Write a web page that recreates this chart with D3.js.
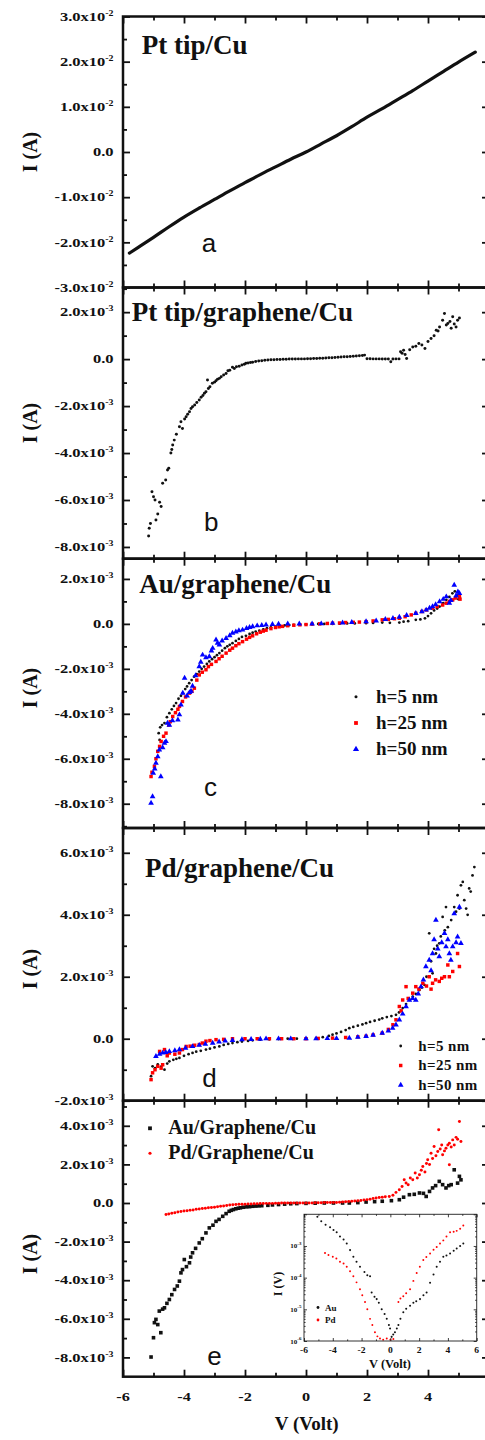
<!DOCTYPE html>
<html>
<head>
<meta charset="utf-8">
<script src="https://cdn.jsdelivr.net/npm/d3@7"></script>
<style>
body { margin: 0; background: #fff; }
svg { display: block; }
text { font-family: "Liberation Serif", "Times New Roman", serif; font-weight: bold; fill: #111; }
text.letter { font-family: "Liberation Sans", Arial, sans-serif; font-weight: normal; }
</style>
</head>
<body>
<svg id="fig" width="485" height="1440"></svg>
<script>
// ---- data: [V (Volt), I (mA)] ----

// a) Pt tip/Cu
var ptCu = [[-5.79,-22.4],[-5.5,-21.1],[-5,-18.9],[-4.5,-16.6],[-4,-14.4],[-3.5,-12.4],[-3,-10.5],[-2.5,-8.6],
	[-2,-6.8],[-1.5,-5.0],[-1,-3.3],[-0.5,-1.6],[0,0],[0.5,1.8],[1,3.6],[1.5,5.6],[2,7.7],[2.5,9.6],
	[3,11.6],[3.5,13.6],[4,15.7],[4.5,17.8],[5,19.9],[5.55,22.1]];

// b) Pt tip/graphene/Cu
var ptGr = [[-5.16,-7.53],[-5.14,-7.2],[-5.1,-7.0],[-5.05,-5.65],[-5.0,-5.86],[-4.95,-6.0],[-4.92,-6.85],[-4.86,-6.6],
	[-4.8,-6.1],[-4.75,-6.28],[-4.7,-5.29],[-4.6,-5.15],[-4.54,-4.72],[-4.5,-4.65],[-4.43,-4.0],[-4.4,-3.85],
	[-4.37,-3.66],[-4.32,-3.45],[-4.25,-3.2],[-4.15,-2.88],[-4.1,-2.67],[-4.05,-2.95],[-3.98,-2.55],[-3.93,-2.45],
	[-3.88,-2.35],[-3.82,-2.24],[-3.77,-2.1],[-3.72,-2.03],[-3.65,-1.95],[-3.58,-1.85],[-3.5,-1.74],[-3.44,-1.62],
	[-3.38,-1.55],[-3.33,-1.45],[-3.28,-1.39],[-3.23,-0.89],[-3.2,-1.25],[-3.15,-1.18],[-3.07,-1.03],[-3.0,-0.98],
	[-2.95,-0.92],[-2.9,-0.86],[-2.84,-0.82],[-2.78,-0.75],[-2.7,-0.68],[-2.62,-0.61],[-2.56,-0.5],[-2.5,-0.47],
	[-2.41,-0.35],[-2.35,-0.4],[-2.28,-0.33],[-2.19,-0.3],[-2.1,-0.25],[-2.02,-0.22],[-1.97,-0.18],[-1.9,-0.17],
	[-1.82,-0.14],[-1.75,-0.13],[-1.65,-0.1],[-1.55,-0.08],[-1.45,-0.07],[-1.35,-0.05],[-1.25,-0.04],[-1.15,-0.03],
	[-1.05,-0.03],[-0.95,-0.02],[-0.85,-0.02],[-0.75,-0.01],[-0.65,-0.01],[-0.55,0],[-0.45,0],[-0.35,0],
	[-0.25,0.01],[-0.15,0.01],[-0.05,0.01],[0.05,0.02],[0.15,0.02],[0.25,0.03],[0.35,0.03],[0.45,0.04],
	[0.55,0.04],[0.65,0.05],[0.75,0.06],[0.85,0.06],[0.95,0.07],[1.05,0.08],[1.15,0.09],[1.25,0.1],
	[1.35,0.1],[1.45,0.11],[1.55,0.12],[1.65,0.13],[1.75,0.14],[1.85,0.15],[1.92,0.17],[2.0,0.02],
	[2.1,0.02],[2.2,0.01],[2.3,0.01],[2.4,0.01],[2.5,0],[2.6,0],[2.7,0],[2.78,-0.11],[2.85,0],[2.95,0.01],
	[3.05,0.01],[3.1,0.31],[3.15,0.25],[3.2,0.38],[3.25,0.2],[3.3,0.03],[3.4,0.4],[3.5,0.52],[3.6,0.55],
	[3.7,0.67],[3.8,0.6],[3.9,0.45],[4.0,0.75],[4.1,0.88],[4.2,1.0],[4.27,1.23],[4.33,1.2],[4.38,1.37],
	[4.48,1.66],[4.54,1.94],[4.6,1.45],[4.65,1.52],[4.72,1.6],[4.76,1.31],[4.81,1.8],[4.86,1.5],[4.92,1.37],
	[4.97,1.66],[5.03,1.75]];

// c) Au/graphene/Cu
var auH5 = [[-4.83,-4.86],[-4.8,-5.16],[-4.78,-4.6],[-4.72,-4.5],[-4.64,-4.41],[-4.56,-4.15],[-4.48,-3.97],[-4.4,-3.8],
	[-4.33,-3.65],[-4.26,-3.52],[-4.18,-3.33],[-4.1,-3.2],[-4.04,-3.08],[-3.96,-2.9],[-3.9,-2.78],[-3.83,-2.64],
	[-3.75,-2.5],[-3.67,-2.35],[-3.58,-2.24],[-3.5,-2.12],[-3.42,-2.0],[-3.34,-1.9],[-3.25,-1.78],[-3.17,-1.67],
	[-3.08,-1.57],[-3.0,-1.48],[-2.92,-1.39],[-2.84,-1.3],[-2.75,-1.19],[-2.66,-1.08],[-2.58,-1.0],[-2.5,-0.93],
	[-2.41,-0.86],[-2.3,-0.76],[-2.2,-0.67],[-2.1,-0.58],[-1.97,-0.53],[-1.85,-0.45],[-1.75,-0.39],[-1.65,-0.34],
	[-1.53,-0.3],[-1.4,-0.24],[-1.28,-0.19],[-1.15,-0.15],[-0.99,-0.12],[-0.85,-0.09],[-0.7,-0.07],[-0.55,-0.05],
	[-0.4,-0.04],[-0.2,-0.03],[0,-0.02],[0.2,-0.01],[0.4,0],[0.6,0],[0.87,0],[1.1,0.01],[1.35,0.02],[1.6,0.02],
	[1.97,0.03],[2.2,0.04],[2.5,0.06],[2.75,0.05],[3.06,0.06],[3.2,0.1],[3.35,0.12],[3.6,0.18],[3.75,0.2],
	[3.9,0.25],[4.0,0.35],[4.1,0.47],[4.2,0.6],[4.3,0.68],[4.38,0.77],[4.5,0.92],[4.6,1.07],[4.7,1.2],
	[4.8,1.36],[4.88,1.45],[4.98,1.29],[5.0,1.1]];
var auH25 = [[-5.08,-6.79],[-5.05,-6.6],[-4.97,-6.34],[-4.92,-6.0],[-4.86,-5.67],[-4.8,-5.45],[-4.75,-5.23],[-4.67,-5.0],
	[-4.59,-4.86],[-4.5,-4.5],[-4.45,-4.35],[-4.37,-4.12],[-4.28,-3.95],[-4.2,-3.8],[-4.15,-3.67],[-4.05,-3.45],
	[-3.95,-3.25],[-3.82,-3.08],[-3.74,-3.0],[-3.66,-2.86],[-3.58,-2.5],[-3.5,-2.27],[-3.4,-2.15],[-3.28,-2.04],
	[-3.2,-1.9],[-3.1,-1.8],[-2.95,-1.67],[-2.85,-1.55],[-2.75,-1.44],[-2.62,-1.3],[-2.5,-1.17],[-2.41,-1.08],
	[-2.3,-0.97],[-2.2,-0.88],[-2.08,-0.79],[-1.95,-0.68],[-1.85,-0.6],[-1.75,-0.53],[-1.62,-0.44],[-1.5,-0.37],
	[-1.4,-0.32],[-1.31,-0.28],[-1.15,-0.21],[-1.0,-0.16],[-0.88,-0.13],[-0.77,-0.11],[-0.6,-0.08],[-0.4,-0.06],
	[-0.2,-0.04],[0,-0.03],[0.2,-0.01],[0.45,0],[0.7,0.02],[0.87,0.03],[1.1,0.04],[1.3,0.06],[1.55,0.07],
	[1.75,0.08],[1.97,0.1],[2.2,0.13],[2.5,0.18],[2.7,0.2],[2.9,0.23],[3.06,0.25],[3.25,0.32],[3.45,0.4],
	[3.6,0.47],[3.8,0.55],[3.95,0.62],[4.15,0.7],[4.3,0.77],[4.48,0.84],[4.6,0.92],[4.7,1.0],[4.81,1.07],
	[4.9,1.15],[5.03,1.21],[5.05,1.1]];
var auH50 = [[-5.08,-7.97],[-5.03,-7.68],[-5.01,-6.64],[-4.96,-6.45],[-4.92,-6.19],[-4.86,-5.9],[-4.81,-5.6],[-4.76,-6.79],
	[-4.7,-5.5],[-4.64,-5.3],[-4.59,-5.23],[-4.54,-4.41],[-4.48,-4.5],[-4.38,-4.3],[-4.2,-4.27],[-4.15,-4.04],
	[-4.1,-3.6],[-4.04,-3.08],[-3.98,-2.41],[-3.9,-3.2],[-3.82,-3.05],[-3.77,-2.99],[-3.72,-2.77],[-3.62,-2.3],
	[-3.5,-1.9],[-3.45,-1.7],[-3.39,-1.38],[-3.28,-1.5],[-3.17,-1.45],[-3.1,-1.2],[-3.06,-1.08],[-2.95,-0.71],
	[-2.9,-0.85],[-2.84,-0.93],[-2.75,-0.75],[-2.62,-0.64],[-2.5,-0.52],[-2.41,-0.41],[-2.3,-0.35],[-2.2,-0.3],
	[-2.08,-0.27],[-1.95,-0.2],[-1.85,-0.15],[-1.75,-0.12],[-1.6,-0.08],[-1.45,-0.06],[-1.31,-0.04],[-1.1,-0.02],
	[-0.9,-0.01],[-0.6,0],[-0.22,0],[0.2,0],[0.5,0.01],[0.87,0.03],[1.2,0.05],[1.5,0.07],[1.97,0.1],[2.3,0.14],
	[2.6,0.2],[2.85,0.25],[3.06,0.3],[3.3,0.38],[3.6,0.47],[3.8,0.55],[3.94,0.62],[4.05,0.7],[4.15,0.77],
	[4.25,0.86],[4.38,0.99],[4.5,1.1],[4.6,1.21],[4.7,0.92],[4.75,1.05],[4.86,1.73],[4.92,1.25],[4.98,1.43],
	[5.03,1.36]];

// d) Pd/graphene/Cu
var pdH5 = [[-5.08,-1.21],[-5.03,-0.89],[-4.95,-0.95],[-4.86,-0.83],[-4.75,-0.9],[-4.64,-1.0],[-4.55,-0.8],[-4.48,-0.73],
	[-4.35,-0.68],[-4.25,-0.65],[-4.15,-0.62],[-4.0,-0.55],[-3.85,-0.5],[-3.72,-0.46],[-3.6,-0.42],[-3.45,-0.39],
	[-3.28,-0.35],[-3.15,-0.32],[-3.0,-0.28],[-2.84,-0.25],[-2.7,-0.2],[-2.55,-0.17],[-2.41,-0.14],[-2.25,-0.11],
	[-2.1,-0.09],[-1.9,-0.07],[-1.75,-0.05],[-1.5,-0.03],[-1.2,-0.02],[-0.9,-0.01],[-0.6,0],[-0.3,0],[0,0],
	[0.33,0.02],[0.55,0.05],[0.75,0.09],[0.87,0.13],[1.0,0.17],[1.15,0.22],[1.3,0.28],[1.42,0.34],[1.55,0.38],
	[1.7,0.42],[1.85,0.46],[1.97,0.5],[2.1,0.54],[2.25,0.58],[2.4,0.62],[2.5,0.66],[2.65,0.7],[2.8,0.73],
	[2.95,0.77],[3.05,0.85],[3.17,0.99],[3.28,1.12],[3.4,1.25],[3.5,1.36],[3.6,1.45],[3.72,1.57],[3.8,1.65],
	[3.88,1.74],[3.95,2.0],[4.04,3.4],[4.1,2.5],[4.15,2.11],[4.2,2.9],[4.26,2.75],[4.3,3.0],[4.37,3.08],
	[4.42,3.3],[4.48,3.93],[4.55,3.5],[4.59,4.25],[4.65,3.6],[4.76,3.83],[4.86,4.25],[4.92,4.1],[4.97,4.63],
	[5.03,4.2],[5.08,4.95],[5.14,5.06],[5.19,4.47],[5.25,4.2],[5.3,4.0],[5.35,4.85],[5.4,4.75],[5.46,5.27],
	[5.52,5.54]];
var pdH25 = [[-5.08,-1.32],[-5.03,-1.1],[-4.95,-1.0],[-4.86,-0.89],[-4.8,-0.41],[-4.75,-0.95],[-4.7,-0.84],[-4.64,-0.35],
	[-4.55,-0.55],[-4.48,-0.46],[-4.3,-0.5],[-4.15,-0.46],[-4.05,-0.35],[-3.93,-0.25],[-3.8,-0.24],[-3.65,-0.21],
	[-3.5,-0.19],[-3.4,-0.14],[-3.28,-0.08],[-3.15,-0.06],[-2.95,-0.03],[-2.7,-0.02],[-2.41,0],[-2.0,0],[-1.6,0],
	[-1.2,0],[-0.8,0],[-0.4,0],[0,0],[0.4,0.01],[0.87,0.02],[1.3,0.04],[1.7,0.06],[1.97,0.08],[2.2,0.12],
	[2.5,0.18],[2.7,0.3],[2.85,0.45],[2.95,0.61],[3.06,1.04],[3.12,0.9],[3.17,1.25],[3.28,1.68],[3.35,1.3],
	[3.5,1.47],[3.6,1.68],[3.7,1.6],[3.83,1.79],[3.95,1.7],[4.04,2.0],[4.1,1.6],[4.15,1.79],[4.25,1.9],
	[4.37,1.85],[4.45,1.95],[4.54,2.0],[4.65,2.38],[4.7,2.0],[4.81,2.17],[4.97,2.75],[5.03,2.33]];
var pdH50 = [[-4.92,-0.57],[-4.8,-0.5],[-4.7,-0.46],[-4.6,-0.44],[-4.48,-0.41],[-4.3,-0.38],[-4.15,-0.35],[-3.95,-0.3],
	[-3.72,-0.25],[-3.5,-0.21],[-3.3,-0.17],[-3.06,-0.14],[-2.85,-0.1],[-2.65,-0.07],[-2.41,-0.05],[-2.1,-0.03],
	[-1.8,-0.02],[-1.5,-0.01],[-1.31,0],[-0.9,0],[-0.5,0],[0,0],[0.33,0],[0.7,0.01],[1.0,0.01],[1.42,0.02],
	[1.7,0.05],[1.97,0.08],[2.2,0.12],[2.5,0.18],[2.7,0.25],[2.84,0.34],[2.95,0.45],[3.06,0.61],[3.17,0.8],
	[3.28,1.04],[3.39,1.25],[3.5,1.3],[3.6,1.25],[3.68,1.45],[3.77,1.68],[3.85,1.9],[3.93,2.33],[4.04,2.54],
	[4.1,2.2],[4.15,2.75],[4.2,3.2],[4.26,3.83],[4.32,2.9],[4.37,2.65],[4.45,3.1],[4.54,3.4],[4.59,2.97],
	[4.65,3.2],[4.7,2.75],[4.75,2.54],[4.81,2.97],[4.86,4.04],[4.92,3.1],[4.97,3.29],[5.03,4.25],[5.08,3.08]];

// e) comparison Au vs Pd
var auCmp = [[-5.08,-7.98],[-5.0,-6.98],[-4.97,-6.2],[-4.92,-6.03],[-4.86,-6.3],[-4.81,-5.6],[-4.76,-6.72],[-4.7,-5.5],
	[-4.64,-5.43],[-4.56,-5.2],[-4.48,-5.0],[-4.4,-4.75],[-4.31,-4.48],[-4.22,-4.3],[-4.15,-4.05],[-4.1,-3.62],
	[-4.05,-3.45],[-3.99,-2.93],[-3.92,-3.3],[-3.82,-3.1],[-3.78,-2.8],[-3.72,-2.58],[-3.62,-2.35],[-3.5,-2.07],
	[-3.4,-1.85],[-3.28,-1.55],[-3.17,-1.29],[-3.05,-1.15],[-2.95,-0.95],[-2.85,-0.85],[-2.73,-0.69],[-2.62,-0.55],
	[-2.52,-0.43],[-2.45,-0.38],[-2.38,-0.34],[-2.3,-0.3],[-2.22,-0.27],[-2.15,-0.25],[-2.05,-0.22],[-1.95,-0.2],
	[-1.85,-0.19],[-1.75,-0.17],[-1.65,-0.16],[-1.55,-0.15],[-1.45,-0.14],[-1.25,-0.12],[-1.1,-0.1],[-0.9,-0.08],
	[-0.7,-0.06],[-0.5,-0.04],[-0.3,-0.03],[0,-0.02],[0.3,-0.01],[0.6,0],[0.9,0],[1.2,0],[1.42,0],[1.7,0.02],
	[1.97,0.05],[2.25,0.07],[2.5,0.09],[2.8,0.12],[3.06,0.17],[3.2,0.3],[3.39,0.43],[3.55,0.45],[3.72,0.52],
	[3.85,0.5],[3.94,0.34],[4.05,0.6],[4.15,0.78],[4.25,0.9],[4.37,1.12],[4.48,0.95],[4.59,0.78],[4.68,0.9],
	[4.76,0.95],[4.86,1.72],[4.97,1.03],[5.03,1.38],[5.08,1.2]];
var pdCmp = [[-4.59,-0.6],[-4.5,-0.57],[-4.4,-0.53],[-4.3,-0.5],[-4.2,-0.47],[-4.1,-0.44],[-4.0,-0.42],[-3.9,-0.4],
	[-3.8,-0.38],[-3.7,-0.36],[-3.6,-0.33],[-3.5,-0.31],[-3.4,-0.29],[-3.3,-0.27],[-3.2,-0.25],[-3.1,-0.23],
	[-3.0,-0.22],[-2.9,-0.2],[-2.8,-0.17],[-2.7,-0.15],[-2.6,-0.13],[-2.5,-0.11],[-2.4,-0.09],[-2.3,-0.08],
	[-2.2,-0.07],[-2.1,-0.06],[-2.0,-0.06],[-1.9,-0.05],[-1.8,-0.05],[-1.7,-0.04],[-1.6,-0.04],[-1.5,-0.03],
	[-1.4,-0.03],[-1.3,-0.02],[-1.2,-0.02],[-1.1,-0.02],[-1.0,-0.01],[-0.9,-0.01],[-0.8,0],[-0.7,0],[-0.6,0],
	[-0.5,0],[-0.4,0],[-0.3,0],[-0.2,0],[-0.1,0],[0,0],[0.1,0],[0.2,0],[0.3,0.01],[0.4,0.01],[0.5,0.01],
	[0.6,0.02],[0.7,0.02],[0.8,0.02],[0.9,0.03],[1.0,0.03],[1.1,0.04],[1.2,0.05],[1.3,0.06],[1.4,0.08],
	[1.5,0.09],[1.6,0.1],[1.7,0.12],[1.8,0.13],[1.9,0.15],[2.0,0.17],[2.1,0.2],[2.2,0.23],[2.3,0.26],[2.4,0.28],
	[2.5,0.3],[2.6,0.32],[2.73,0.34],[2.85,0.4],[2.95,0.55],[3.06,0.69],[3.15,0.85],[3.22,1.2],[3.28,1.03],
	[3.35,0.95],[3.42,1.3],[3.5,1.2],[3.58,1.55],[3.65,1.3],[3.72,1.46],[3.78,1.7],[3.83,1.89],[3.9,1.6],
	[3.95,2.05],[3.99,2.24],[4.05,2.0],[4.1,2.58],[4.15,2.3],[4.2,2.93],[4.26,2.45],[4.32,2.67],[4.35,3.79],
	[4.4,2.8],[4.45,3.0],[4.48,2.5],[4.54,2.7],[4.59,2.84],[4.65,3.0],[4.7,3.1],[4.7,1.98],[4.76,2.9],
	[4.81,3.27],[4.86,3.01],[4.92,3.4],[4.97,3.3],[5.03,4.22],[5.08,3.19]];

// e inset) |I| in A on a log axis
var insetAu = [[-5.07,8.3e-3],[-4.8,6.0e-3],[-4.5,4.7e-3],[-4.19,3.9e-3],[-3.95,3.2e-3],[-3.73,2.7e-3],[-3.5,2.0e-3],
	[-3.25,1.6e-3],[-3.03,1.2e-3],[-2.8,7.4e-4],[-2.57,4.6e-4],[-2.35,3.2e-4],[-2.11,2.2e-4],[-1.8,1.5e-4],
	[-1.6,1.2e-4],[-1.41,1.1e-4],[-1.3,3.4e-5],[-1.1,2.5e-5],[-0.95,2.1e-5],[-0.8,1.6e-5],[-0.6,1.0e-5],
	[-0.4,7.1e-6],[-0.25,5.0e-6],[-0.1,3.2e-6],[-0.02,2.5e-6],[0.09,1.35e-6],[0.2,1.6e-6],[0.32,1.9e-6],
	[0.45,2.5e-6],[0.56,3.2e-6],[0.7,5.0e-6],[0.9,8.1e-6],[1.1,1.05e-5],[1.37,1.3e-5],[1.6,1.6e-5],[1.8,1.8e-5],
	[2.06,2.1e-5],[2.3,2.8e-5],[2.52,3.4e-5],[2.76,6.9e-5],[3.0,1.26e-4],[3.22,2.2e-4],[3.45,3.2e-4],[3.68,4.6e-4],
	[3.9,5.0e-4],[4.15,5.8e-4],[4.4,7.1e-4],[4.61,8.3e-4],[4.85,1.0e-3],[5.07,1.2e-3]];
var insetPd = [[-4.54,6.0e-4],[-4.3,5.2e-4],[-4.0,4.6e-4],[-3.75,4.0e-4],[-3.5,3.2e-4],[-3.25,2.8e-4],[-3.03,2.2e-4],
	[-2.8,1.6e-4],[-2.57,1.1e-4],[-2.35,7.1e-5],[-2.11,4.3e-5],[-1.95,2.8e-5],[-1.76,1.7e-5],[-1.6,1.0e-5],
	[-1.41,5.0e-6],[-1.25,3.2e-6],[-1.07,1.9e-6],[-0.9,1.4e-6],[-0.72,1.2e-6],[-0.5,1.1e-6],[-0.25,1.2e-6],
	[0,1.1e-6],[0.21,1.15e-6],[0.56,1.7e-5],[0.7,2.2e-5],[0.9,2.6e-5],[1.1,3.2e-5],[1.37,4.3e-5],[1.6,7.9e-5],
	[1.83,1.4e-4],[2.05,2.2e-4],[2.29,3.6e-4],[2.5,4.5e-4],[2.76,5.8e-4],[3.0,7.6e-4],[3.22,9.3e-4],[3.45,1.2e-3],
	[3.68,1.5e-3],[3.9,2.0e-3],[4.15,2.7e-3],[4.4,2.8e-3],[4.61,3.0e-3],[4.85,3.5e-3],[5.07,4.4e-3]];

// ticks (mA) and labels
var xMajor = [-6, -4, -2, 0, 2, 4, 6];
var xMinor = [-5, -3, -1, 1, 3, 5];
var xLabels = [-6, -4, -2, 0, 2, 4];   // "6" falls outside the cropped figure
var aMajor = [-30, -20, -10, 0, 10, 20, 30], aMinor = [-25, -15, -5, 5, 15, 25];
var bMajor = [-8, -6, -4, -2, 0, 2], bMinor = [-7, -5, -3, -1, 1, 3];
var cMajor = [-8, -6, -4, -2, 0, 2], cMinor = [-9, -7, -5, -3, -1, 1];
var dMajor = [-2, 0, 2, 4, 6], dMinor = [-1, 1, 3, 5];
var eMajor = [-8, -6, -4, -2, 0, 2, 4], eMinor = [-7, -5, -3, -1, 1, 3, 5];
var hLegend = ["h=5 nm", "h=25 nm", "h=50 nm"];
var cmpLegend = ["Au/Graphene/Cu", "Pd/Graphene/Cu"];
var insetLegend = ["Au", "Pd"];

var svg = d3.select("#fig");
var x = d3.scaleLinear().domain([-6, 6]).range([123, 489]);

var shapes = { dot: d3.symbolCircle, square: d3.symbolSquare, tri: d3.symbolTriangle };
var BLACK = "#111", RED = "#ff0000", BLUE = "#0000ff";

var hSeriesC = [
	{data: auH5, color: BLACK, shape: "dot", size: 6},
	{data: auH25, color: RED, shape: "square", size: 12},
	{data: auH50, color: BLUE, shape: "tri", size: 14}
];
var hSeriesD = [
	{data: pdH5, color: BLACK, shape: "dot", size: 6},
	{data: pdH25, color: RED, shape: "square", size: 12},
	{data: pdH50, color: BLUE, shape: "tri", size: 14}
];
var cmpSeries = [
	{data: auCmp, color: BLACK, shape: "square", size: 13},
	{data: pdCmp, color: RED, shape: "dot", size: 7}
];

var panels = [
	{top: 16.5, bottom: 287.5, domain: [-30, 30], major: aMajor, minor: aMinor, exp: -2,
	 title: "Pt tip/Cu", tx: 141.7, ty: 54.3, letter: "a", lx: 201.7, ly: 251.7, labelY: 152,
	 series: [{data: ptCu, color: BLACK, shape: "line"}]},
	{top: 287.5, bottom: 558.7, domain: [-8.5, 3.05], major: bMajor, minor: bMinor, exp: -3,
	 title: "Pt tip/graphene/Cu", tx: 131.7, ty: 320.7, letter: "b", lx: 204, ly: 530.7, labelY: 423,
	 series: [{data: ptGr, color: BLACK, shape: "dot", size: 7}]},
	{top: 558.7, bottom: 828, domain: [-9.08, 2.9], major: cMajor, minor: cMinor, exp: -3,
	 title: "Au/graphene/Cu", tx: 139.3, ty: 592.7, letter: "c", lx: 204, ly: 796, labelY: 688,
	 series: hSeriesC},
	{top: 828, bottom: 1100.7, domain: [-2, 6.8], major: dMajor, minor: dMinor, exp: -3,
	 title: "Pd/graphene/Cu", tx: 145, ty: 876.7, letter: "d", lx: 202.3, ly: 1086.7, labelY: 969,
	 series: hSeriesD},
	{top: 1100.7, bottom: 1376.7, domain: [-9, 5.3], major: eMajor, minor: eMinor, exp: -3,
	 title: null, letter: "e", lx: 207.3, ly: 1365, labelY: 1254,
	 series: cmpSeries}
];

// Draws one series of markers (or a line) through the given scales
function drawSeries(g, s, sx, sy, scale) {
	if (s.shape === "line") {
		g.append("path")
		.datum(s.data)
		.attr("fill", "none")
		.attr("stroke", s.color)
		.attr("stroke-width", 3.2)
		.attr("stroke-linecap", "round")
		.attr("d", d3.line().x(function(d){ return sx(d[0]); }).y(function(d){ return sy(d[1]); }).curve(d3.curveMonotoneX));
		return;
	}
	var sym = d3.symbol().type(shapes[s.shape]).size(s.size * (scale || 1));
	g.selectAll(null)
	.data(s.data)
	.enter().append("path")
	.attr("d", sym)
	.attr("fill", s.color)
	.attr("transform", function(d){ return "translate(" + sx(d[0]) + "," + sy(d[1]) + ")"; });
}

function legendMarker(g, s, cx, cy, scale) {
	g.append("path")
	.attr("d", d3.symbol().type(shapes[s.shape]).size(s.size * (scale || 1)))
	.attr("fill", s.color)
	.attr("transform", "translate(" + cx + "," + cy + ")");
}

// inward ticks on all four sides of a frame
function frameTicks(g, sx, sy, left, right, top, bottom, xMaj, xMin, yMaj, yMin, lenMaj, lenMin, width) {
	var defs = [
		[function(){ return d3.axisBottom(sx); }, "translate(0," + top + ")", xMaj, xMin],
		[function(){ return d3.axisTop(sx); }, "translate(0," + bottom + ")", xMaj, xMin],
		[function(){ return d3.axisRight(sy); }, "translate(" + left + ",0)", yMaj, yMin],
		[function(){ return d3.axisLeft(sy); }, "translate(" + right + ",0)", yMaj, yMin]
	];
	defs.forEach(function(d){
		[[d[2], lenMaj], [d[3], lenMin]].forEach(function(t){
			var ax = g.append("g").attr("transform", d[1])
			.call(d[0]().tickValues(t[0]).tickSize(t[1]).tickFormat(""));
			ax.select(".domain").remove();
			ax.selectAll("line").attr("stroke", BLACK).attr("stroke-width", width);
		});
	});
}

function drawPanel(p) {
	var y = d3.scaleLinear().domain(p.domain).range([p.bottom, p.top]);
	var g = svg.append("g");
	var inside = function(v){ return v >= p.domain[0] - 1e-9 && v <= p.domain[1] + 1e-9; };
	var maj = p.major.filter(inside), mnr = p.minor.filter(inside);

	p.series.forEach(function(s){ drawSeries(g, s, x, y); });

	g.append("rect")
	.attr("x", 123).attr("y", p.top)
	.attr("width", 366).attr("height", p.bottom - p.top)
	.attr("fill", "none").attr("stroke", BLACK).attr("stroke-width", 2.5);

	frameTicks(g, x, y, 123, 489, p.top, p.bottom, xMajor, xMinor, maj, mnr, 7, 4, 1.8);

	// y tick labels like 2.0x10^-3
	maj.forEach(function(v){
		var t = g.append("text")
		.attr("transform", "translate(113.5," + (y(v) + 4.3) + ") scale(1.32,1)")
		.attr("text-anchor", "end")
		.style("font-size", "12.5px");
		if (v === 0) { t.text("0.0"); return; }
		var mant = v / Math.pow(10, p.exp + 3);
		t.append("tspan").text(mant.toFixed(1) + "x10");
		t.append("tspan").attr("dy", -5).style("font-size", "7.5px").text(p.exp);
	});

	g.append("text")
	.attr("transform", "translate(37," + p.labelY + ") rotate(-90)")
	.attr("text-anchor", "middle")
	.style("font-size", "20px")
	.text("I (A)");

	if (p.title) {
		g.append("text").attr("x", p.tx).attr("y", p.ty)
		.style("font-size", "27px").text(p.title);
	}
	g.append("text").attr("class", "letter")
	.attr("x", p.lx).attr("y", p.ly)
	.style("font-size", "26px").text(p.letter);
	return y;
}

var ys = panels.map(drawPanel);

// legends
hLegend.forEach(function(name, i){
	legendMarker(svg, hSeriesC[i], 356, 696.7 + i * 26.3, 1.2);
	svg.append("text").attr("x", 376).attr("y", 702.5 + i * 26.3)
	.style("font-size", "19px").text(name);
	legendMarker(svg, hSeriesD[i], 400.7, 1046 + i * 19.5, 1);
	svg.append("text").attr("x", 418.3).attr("y", 1050.5 + i * 19.5)
	.style("font-size", "15px").style("letter-spacing", "0.4px").text(name);
});
cmpLegend.forEach(function(name, i){
	legendMarker(svg, cmpSeries[i], 150, 1128.3 + i * 25, 1.1);
	svg.append("text").attr("x", 168.3).attr("y", 1134 + i * 25)
	.style("font-size", "20px").text(name);
});

// x axis labels of the bottom panel
xLabels.forEach(function(v){
	svg.append("text")
	.attr("transform", "translate(" + x(v) + ",1400.7) scale(1.3,1)")
	.attr("text-anchor", "middle")
	.style("font-size", "12.5px")
	.text(v);
});
svg.append("text").attr("x", 306.7).attr("y", 1430)
.attr("text-anchor", "middle").style("font-size", "19px").text("V (Volt)");

// ---- inset: log |I| vs V ----
var ix = d3.scaleLinear().domain([-6, 6]).range([304, 476.7]);
var iy = d3.scaleLog().domain([1e-6, 1e-2]).range([1341, 1214.3]).clamp(true);
var ig = svg.append("g");
ig.append("rect").attr("x", 304).attr("y", 1214.3).attr("width", 172.7).attr("height", 126.7)
.attr("fill", "#fff");
var insetSeries = [
	{data: insetAu, color: BLACK, shape: "dot", size: 3.2},
	{data: insetPd, color: RED, shape: "dot", size: 3}
];
insetSeries.forEach(function(s){ drawSeries(ig, s, ix, iy); });
ig.append("rect").attr("x", 304).attr("y", 1214.3).attr("width", 172.7).attr("height", 126.7)
.attr("fill", "none").attr("stroke", "#333").attr("stroke-width", 1);

var decades = [1e-6, 1e-5, 1e-4, 1e-3, 1e-2];
var logMinor = [];
decades.slice(0, 4).forEach(function(d){
	for (var k = 2; k < 10; k++) { logMinor.push(d * k); }
});
frameTicks(ig, ix, iy, 304, 476.7, 1214.3, 1341, xMajor, xMinor, decades, logMinor, 3, 1.6, 0.8);

xMajor.forEach(function(v){
	ig.append("text")
	.attr("transform", "translate(" + ix(v) + ",1353) scale(1.2,1)")
	.attr("text-anchor", "middle").style("font-size", "8px").text(v);
});
[1e-6, 1e-5, 1e-4, 1e-3].forEach(function(d){
	var t = ig.append("text")
	.attr("transform", "translate(301.5," + (iy(d) + 2.5) + ")")
	.attr("text-anchor", "end").style("font-size", "7px");
	t.append("tspan").text("10");
	t.append("tspan").attr("dy", -3.5).style("font-size", "5px").text(Math.round(Math.log10(d)));
});
ig.append("text").attr("x", 390).attr("y", 1368.3)
.attr("text-anchor", "middle").style("font-size", "12.5px").text("V (Volt)");
ig.append("text")
.attr("transform", "translate(282,1284) rotate(-90)")
.attr("text-anchor", "middle").style("font-size", "12px").text("I (V)");
insetLegend.forEach(function(name, i){
	legendMarker(ig, insetSeries[i], 318, 1307.5 + i * 12.5, 2);
	ig.append("text").attr("x", 325).attr("y", 1310.5 + i * 12.5)
	.style("font-size", "9px").text(name);
});
</script>
</body>
</html>
